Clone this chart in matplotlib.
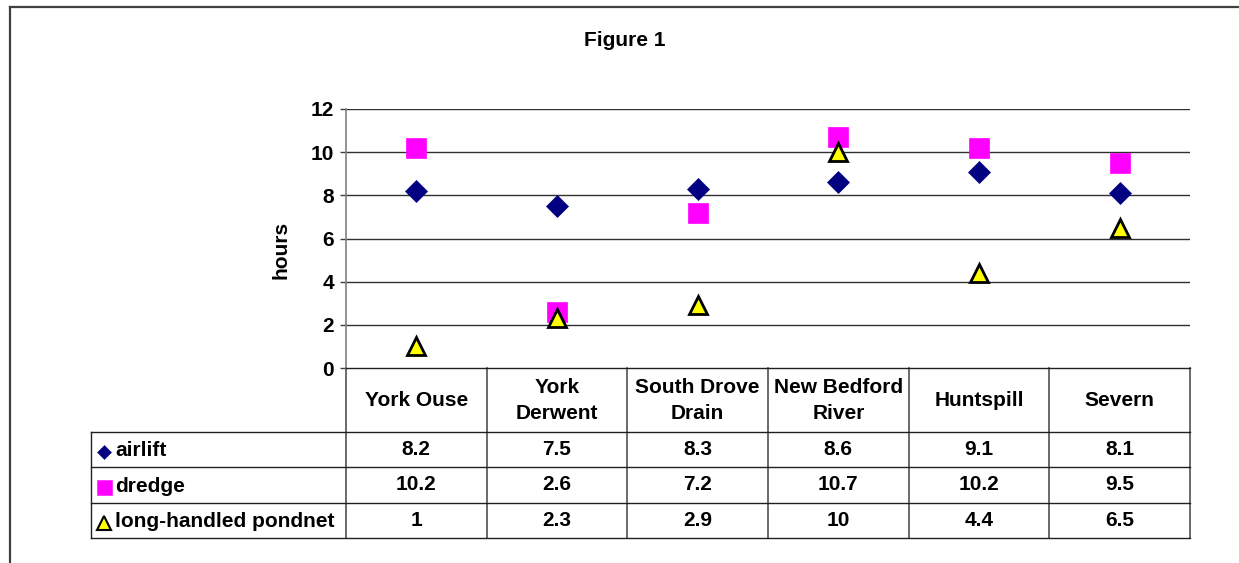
import matplotlib
matplotlib.use("Agg")
import matplotlib.pyplot as plt
from matplotlib import transforms
from matplotlib.lines import Line2D

plt.rcParams['font.family'] = ['Liberation Sans', 'DejaVu Sans']

categories = ["York Ouse", "York\nDerwent", "South Drove\nDrain", "New Bedford\nRiver", "Huntspill", "Severn"]
series_names = ["airlift", "dredge", "long-handled pondnet"]
airlift = [8.2, 7.5, 8.3, 8.6, 9.1, 8.1]
dredge = [10.2, 2.6, 7.2, 10.7, 10.2, 9.5]
pondnet = [1, 2.3, 2.9, 10, 4.4, 6.5]
yticks = [0, 2, 4, 6, 8, 10, 12]

W, H = 1239, 563
FS = 15
fig = plt.figure(figsize=(W / 100, H / 100), dpi=100)

def fx(px):
    return px / W

def fy(py):
    return 1 - py / H

# outer chart frame
frame_col = '#404040'
fig.add_artist(Line2D([fx(10), fx(10)], [fy(7), fy(563)], color=frame_col, lw=1.6))
fig.add_artist(Line2D([fx(10), fx(1239)], [fy(7), fy(7)], color=frame_col, lw=1.6))

ax = fig.add_axes([fx(346), fy(368), (1190 - 346) / W, (368 - 109) / H])
n = len(categories)
xs = list(range(n))
ax.set_xlim(-0.5, n - 0.5)
ax.set_ylim(0, 12)
ax.set_yticks(yticks)
ax.set_yticklabels([str(t) for t in yticks], fontsize=FS, fontweight='bold')
ax.set_xticks([])
for s in ['top', 'right', 'bottom']:
    ax.spines[s].set_visible(False)
ax.spines['left'].set_color('#808080')
ax.spines['left'].set_linewidth(1.2)
ax.tick_params(axis='y', length=4.5, width=1, color='#404040', pad=4)
for t in yticks[1:]:
    ax.axhline(t, color='#303030', lw=1.0, zorder=1)

styles = [
    dict(marker='D', color='#000080', ms=11, mec='#000080', mew=0.5, kms=7.6),
    dict(marker='s', color='#FF00FF', ms=15, mec='#FF00FF', mew=0.5, kms=10.8),
    dict(marker='^', color='#FFFF00', ms=13.5, mec='black', mew=2, kms=9.5),
]
for vals, st in zip([airlift, dredge, pondnet], styles):
    ax.plot(xs, vals, linestyle='none', marker=st['marker'], markerfacecolor=st['color'],
            markeredgecolor=st['mec'], markeredgewidth=st['mew'], markersize=st['ms'],
            zorder=3, clip_on=False)

fig.text(fx(281), fy(250), "hours", rotation=90, ha='center', va='center',
         fontsize=FS, fontweight='bold')
fig.text(fx(625), fy(40), "Figure 1", ha='center', va='center', fontsize=FS, fontweight='bold')

# data table
tr = transforms.blended_transform_factory(ax.transData, fig.transFigure)
row_edges = [368, 432, 467, 503, 538]
lc = '#202020'
fig.add_artist(Line2D([fx(346), fx(1190)], [fy(368), fy(368)], color=lc, lw=1.0))
for ry in row_edges[1:]:
    fig.add_artist(Line2D([fx(91), fx(1190)], [fy(ry), fy(ry)], color=lc, lw=1.0))
for i in range(n + 1):
    ax.add_line(Line2D([i - 0.5, i - 0.5], [fy(368), fy(538)], transform=tr, color='#505050',
                       lw=1.2, clip_on=False))
fig.add_artist(Line2D([fx(91), fx(91)], [fy(432), fy(538)], color=lc, lw=1.0))

# header
for i, c in enumerate(categories):
    ax.text(i, fy(400.5), c, transform=tr, ha='center', va='center', fontsize=FS,
            fontweight='bold', linespacing=1.5, clip_on=False)

# rows
for r, (name, vals, st) in enumerate(zip(series_names, [airlift, dredge, pondnet], styles)):
    yc = (row_edges[r + 1] + row_edges[r + 2]) / 2
    fig.add_artist(Line2D([fx(103.5)], [fy(yc + 2)], marker=st['marker'], markerfacecolor=st['color'],
                          markeredgecolor=st['mec'], markeredgewidth=st['mew'] * 0.75,
                          markersize=st['kms'], linestyle='none'))
    fig.text(fx(115), fy(yc + 1), name, ha='left', va='center', fontsize=FS, fontweight='bold')
    for i, v in enumerate(vals):
        ax.text(i, fy(yc), f"{v:g}", transform=tr, ha='center', va='center', fontsize=FS,
                fontweight='bold', clip_on=False)

fig.savefig("out.png", dpi=100, facecolor='white')
